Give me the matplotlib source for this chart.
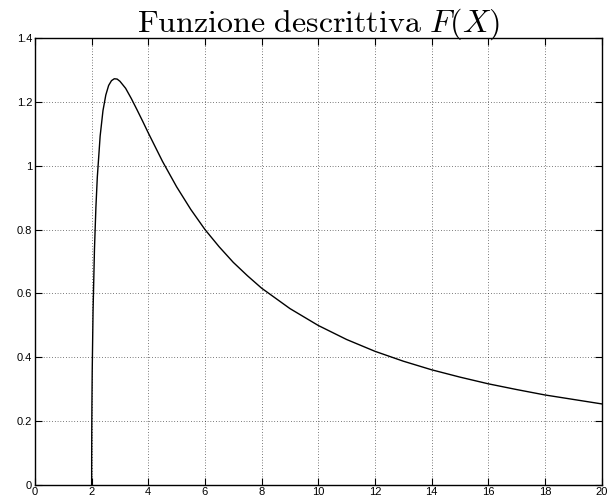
import matplotlib
matplotlib.use("Agg")
import matplotlib.pyplot as plt

plt.rcParams['mathtext.fontset'] = 'cm'
plt.rcParams['font.family'] = ['Liberation Sans', 'DejaVu Sans']

# Values
x_vals = [2.0, 2.001, 2.005, 2.01, 2.02, 2.05, 2.1, 2.15, 2.2, 2.3, 2.4, 2.5, 2.6,
          2.7, 2.8, 2.9, 3.0, 3.2, 3.4, 3.6, 3.8, 4.0, 4.5, 5.0, 5.5, 6.0, 6.5,
          7.0, 7.5, 8.0, 9.0, 10.0, 11.0, 12.0, 13.0, 14.0, 15.0, 16.0, 17.0,
          18.0, 19.0, 20.0]
y_vals = [0.0, 0.080, 0.179, 0.253, 0.354, 0.545, 0.739, 0.869, 0.964, 1.093,
          1.173, 1.222, 1.252, 1.267, 1.273, 1.272, 1.265, 1.243, 1.211, 1.176,
          1.140, 1.103, 1.014, 0.934, 0.863, 0.800, 0.746, 0.697, 0.655, 0.616,
          0.552, 0.499, 0.455, 0.418, 0.387, 0.360, 0.337, 0.316, 0.298, 0.281,
          0.267, 0.253]

x_ticks = [0, 2, 4, 6, 8, 10, 12, 14, 16, 18, 20]
y_ticks = [0, 0.2, 0.4, 0.6, 0.8, 1.0, 1.2, 1.4]
y_ticklabels = ['0', '0.2', '0.4', '0.6', '0.8', '1', '1.2', '1.4']

fig = plt.figure(figsize=(6.16, 5.01), dpi=100)
ax = fig.add_axes([0.0568, 0.0329, 0.9197, 0.8907])
ax.plot(x_vals, y_vals, color='black', linewidth=1.0)
ax.set_xlim(0, 20)
ax.set_ylim(0, 1.4)
ax.set_xticks(x_ticks)
ax.set_xticklabels([str(t) for t in x_ticks])
ax.set_yticks(y_ticks)
ax.set_yticklabels(y_ticklabels)
ax.tick_params(direction='in', length=5, width=0.8, labelsize=8, pad=2,
               top=True, right=True)
ax.grid(True, color='black', linestyle=(0, (1, 3)), linewidth=0.5)
for s in ax.spines.values():
    s.set_linewidth(1.0)
ax.set_title(r'$\mathrm{Funzione\ descrittiva}\ F(X)$', fontsize=23, pad=5)
fig.savefig('out.png', dpi=100)
